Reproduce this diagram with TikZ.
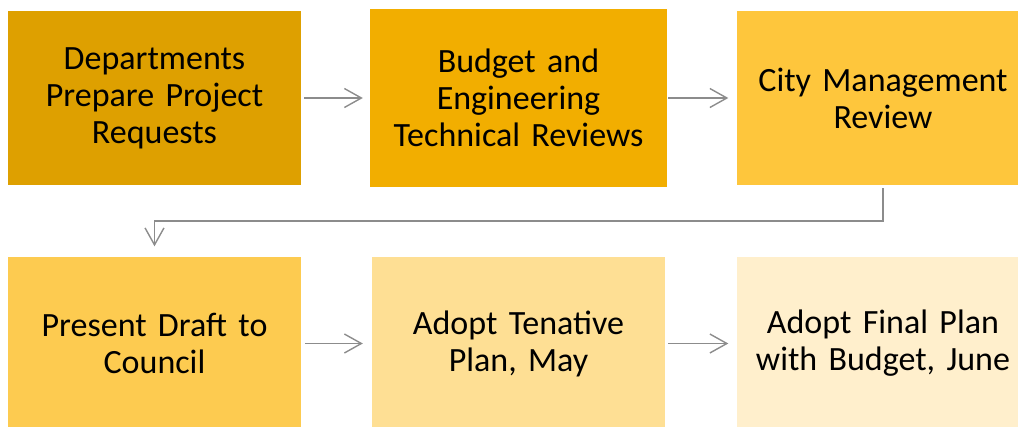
\documentclass[tikz,border=0pt]{standalone}
\usepackage{fontspec}
\setmainfont[WordSpace=0.8]{Carlito}
\usetikzlibrary{arrows.meta}
\definecolor{stepA}{RGB}{222,160,0}
\definecolor{stepB}{RGB}{242,174,0}
\definecolor{stepC}{RGB}{254,198,60}
\definecolor{stepD}{RGB}{253,203,80}
\definecolor{stepE}{RGB}{254,223,148}
\definecolor{stepF}{RGB}{255,239,204}
\definecolor{linkgray}{RGB}{140,140,140}
\tikzset{
  stepbox/.style={rectangle, inner sep=0pt, minimum width=293pt, minimum height=174pt,
    text width=290pt, align=center, font=\fontsize{34pt}{37pt}\selectfont, text=black},
  link/.style={draw=linkgray, line width=1.4pt,
    -{Straight Barb[length=17pt,width=19pt,line width=1.4pt]}}
}
\begin{document}
\begin{tikzpicture}[x=1pt,y=-1pt]
  \useasboundingbox (0,0) rectangle (1018,426);
  \clip (0,0) rectangle (1018,426);
  % top row
  \node[stepbox, fill=stepA] (dep) at (154.5,98) {Departments\\Prepare Project\\Requests};
  \node[stepbox, fill=stepB, minimum width=297pt, minimum height=178pt] (bud) at (518.5,98) {Budget and\\Engineering\\Technical Reviews};
  \node[stepbox, fill=stepC] (city) at (883,98) {City Management\\Review};
  % bottom row
  \node[stepbox, fill=stepD] (pres) at (154.5,343.5) {Present Draft to\\Council};
  \node[stepbox, fill=stepE] (tent) at (518.5,343.5) {Adopt Tenative\\Plan, May};
  \node[stepbox, fill=stepF] (final) at (883,343.5) {Adopt Final Plan\\with Budget, June};
  % connectors
  \coordinate (bend) at (883,221);
  \draw[link, shorten <=3pt, shorten >=7pt] (dep.east) -- (bud.west);
  \draw[link, shorten <=1pt, shorten >=8pt] (bud.east) -- (city.west);
  \draw[link, shorten <=3pt, shorten >=10pt] (city.south) -- (bend) -| (pres.north);
  \draw[link, shorten <=4pt, shorten >=9pt] (pres.east) -- (tent.west);
  \draw[link, shorten <=3pt, shorten >=8pt] (tent.east) -- (final.west);
\end{tikzpicture}
\end{document}
